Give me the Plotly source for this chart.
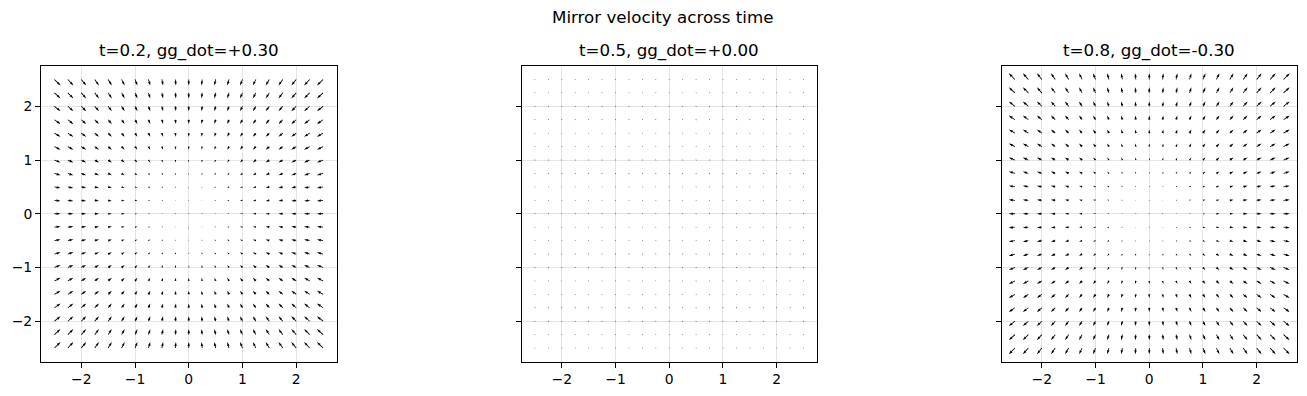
import numpy as np
import plotly.graph_objects as go

# ---------------- data ----------------
grid_vals = [-2.5, -2.25, -2.0, -1.75, -1.5, -1.25, -1.0, -0.75, -0.5, -0.25, 0.0,
             0.25, 0.5, 0.75, 1.0, 1.25, 1.5, 1.75, 2.0, 2.25, 2.5]
times = [0.2, 0.5, 0.8]
gg_dot = [0.30, 0.00, -0.30]
panel_titles = ["t=0.2, gg_dot=+0.30", "t=0.5, gg_dot=+0.00", "t=0.8, gg_dot=-0.30"]
tick_vals = [-2, -1, 0, 1, 2]
tick_text = ["\u22122", "\u22121", "0", "1", "2"]
suptitle = "Mirror velocity across time"

# ---------------- layout constants ----------------
OFF = 8                      # page body margin in the browser
W, H = 1307 - OFF, 396 - OFF
AX_PX = 295.5
lefts = [41 - OFF, 521.5 - OFF, 1001.5 - OFF]
top_px, bot_px = 66 - OFF, 361.5 - OFF
RNG = 2.75
px_per_unit = AX_PX / (2 * RNG)
w_px = 0.06 / 21 * AX_PX          # arrow shaft width (matplotlib default)
ARROW_PX_PER_VEL = 8.2            # arrow length in px per unit velocity
HW, HL, HAL = 3.0, 5.0, 4.5        # head width/length/axis length (width units)
DOT_R = 0.6                        # radius of zero-length markers (width units)

X, Y = np.meshgrid(np.array(grid_vals), np.array(grid_vals))


def arrow_polys(U, V):
    xs, ys = [], []
    for x0, y0, u, v in zip(X.ravel(), Y.ravel(), U.ravel(), V.ravel()):
        m = float(np.hypot(u, v))
        L = m * ARROW_PX_PER_VEL / w_px
        th = np.arctan2(v, u)
        if L < 1.0:
            ang = np.arange(0, 7) * np.pi / 3
            px = list(DOT_R * np.cos(ang))
            py = list(DOT_R * np.sin(ang))
        else:
            if L < HL:
                s = L / HL
                bx = [0, HL - HAL, 0, HL]
                bx = [b * s for b in bx]
                by = [0.5 * s, 0.5 * s, 0.5 * HW * s, 0]
            else:
                bx = [0, L - HAL, L - HL, L]
                by = [0.5, 0.5, 0.5 * HW, 0]
            px = bx + bx[-2::-1]
            py = by + [-b for b in by[-2::-1]]
            px.append(px[0]); py.append(py[0])
        c, s_ = np.cos(th), np.sin(th)
        for a, b in zip(px, py):
            rx = a * c - b * s_
            ry = a * s_ + b * c
            xs.append(x0 + rx * w_px / px_per_unit)
            ys.append(y0 + ry * w_px / px_per_unit)
        xs.append(None); ys.append(None)
    return xs, ys


fig = go.Figure()
for i, g in enumerate(gg_dot):
    U = -g * X
    V = -g * Y
    xs, ys = arrow_polys(U, V)
    ax = "" if i == 0 else str(i + 1)
    fig.add_trace(go.Scatter(x=xs, y=ys, mode="lines", fill="toself",
                             fillcolor="black", line=dict(width=0, color="black"),
                             hoverinfo="skip", showlegend=False,
                             xaxis="x" + ax, yaxis="y" + ax))

ydom = [(H - bot_px) / H, (H - top_px) / H]
axis_common = dict(range=[-RNG, RNG], tickvals=tick_vals, ticktext=tick_text,
                   showgrid=True, gridcolor="#e5e5e5", gridwidth=1,
                   zeroline=False, showline=True, linecolor="black", linewidth=1,
                   mirror=True, ticks="outside", ticklen=5, tickwidth=1,
                   tickcolor="black",
                   tickfont=dict(family="DejaVu Sans", size=13.9, color="black"))
layout = dict(width=W, height=H, margin=dict(l=0, r=0, t=0, b=0),
              paper_bgcolor="white", plot_bgcolor="white", showlegend=False)
annotations = []
for i in range(3):
    ax = "" if i == 0 else str(i + 1)
    xd = [lefts[i] / W, (lefts[i] + AX_PX) / W]
    layout["xaxis" + ax] = dict(axis_common, domain=xd, anchor="y" + ax)
    layout["yaxis" + ax] = dict(axis_common, domain=ydom, anchor="x" + ax,
                                showticklabels=(i == 0))
    annotations.append(dict(text=panel_titles[i], xref="paper", yref="paper",
                            x=(xd[0] + xd[1]) / 2, y=ydom[1], xanchor="center",
                            yanchor="bottom", yshift=3, showarrow=False,
                            font=dict(family="DejaVu Sans", size=16.7, color="black")))
annotations.append(dict(text=suptitle, xref="paper", yref="paper", x=(663 - OFF) / W,
                        y=(H - (17 - OFF)) / H, xanchor="center", yanchor="middle",
                        showarrow=False,
                        font=dict(family="DejaVu Sans", size=16.7, color="black")))
layout["annotations"] = annotations
fig.update_layout(**layout)
fig.write_html("out.html")
